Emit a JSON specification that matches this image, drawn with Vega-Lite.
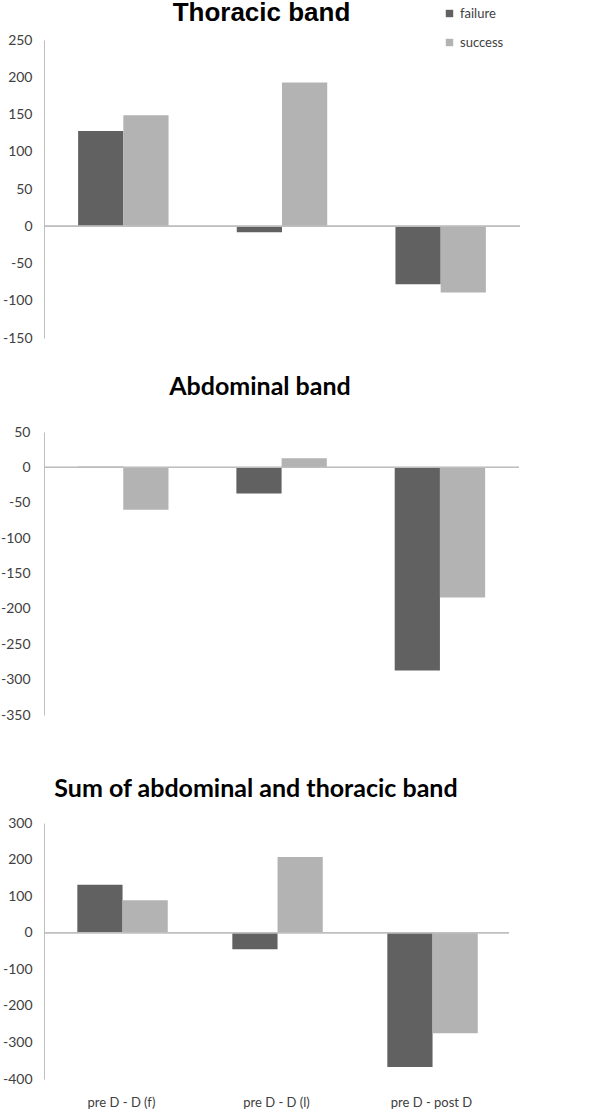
{
  "$schema": "https://vega.github.io/schema/vega-lite/v6.json",
  "padding": 0,
  "background": "white",
  "spacing": 30,
  "data": {"values": [
    {"panel": "thoracic", "period": "pre D - D (f)", "group": "failure", "value": 128},
    {"panel": "thoracic", "period": "pre D - D (f)", "group": "success", "value": 149},
    {"panel": "thoracic", "period": "pre D - D (l)", "group": "failure", "value": -8},
    {"panel": "thoracic", "period": "pre D - D (l)", "group": "success", "value": 193},
    {"panel": "thoracic", "period": "pre D - post D", "group": "failure", "value": -78},
    {"panel": "thoracic", "period": "pre D - post D", "group": "success", "value": -89},
    {"panel": "abdominal", "period": "pre D - D (f)", "group": "failure", "value": 1},
    {"panel": "abdominal", "period": "pre D - D (f)", "group": "success", "value": -60},
    {"panel": "abdominal", "period": "pre D - D (l)", "group": "failure", "value": -37},
    {"panel": "abdominal", "period": "pre D - D (l)", "group": "success", "value": 13},
    {"panel": "abdominal", "period": "pre D - post D", "group": "failure", "value": -287},
    {"panel": "abdominal", "period": "pre D - post D", "group": "success", "value": -184},
    {"panel": "sum", "period": "pre D - D (f)", "group": "failure", "value": 131},
    {"panel": "sum", "period": "pre D - D (f)", "group": "success", "value": 89},
    {"panel": "sum", "period": "pre D - D (l)", "group": "failure", "value": -45},
    {"panel": "sum", "period": "pre D - D (l)", "group": "success", "value": 207},
    {"panel": "sum", "period": "pre D - post D", "group": "failure", "value": -367},
    {"panel": "sum", "period": "pre D - post D", "group": "success", "value": -275}
  ]},
  "vconcat": [
    {
      "title": {"text": "Thoracic band", "font": "Liberation Sans", "fontSize": 26, "fontWeight": "bold", "anchor": "middle", "frame": "bounds", "offset": 7, "color": "black"},
      "width": 476, "height": 298,
      "transform": [{"filter": "datum.panel === 'thoracic'"}],
      "layer": [
        {"mark": {"type": "bar"},
         "encoding": {
           "x": {"field": "period", "type": "nominal", "sort": ["pre D - D (f)", "pre D - D (l)", "pre D - post D"], "scale": {"paddingInner": 0.43, "paddingOuter": 0.215}, "axis": null},
           "xOffset": {"field": "group", "type": "nominal", "sort": ["failure", "success"], "scale": {"paddingInner": 0, "paddingOuter": 0}},
           "y": {"field": "value", "type": "quantitative", "scale": {"domain": [-150, 250], "nice": false, "zero": false}, "axis": {"values": [-150, -100, -50, 0, 50, 100, 150, 200, 250], "title": null, "labelOverlap": false, "labelExpr": "'' + datum.value"}},
           "color": {"field": "group", "type": "nominal", "scale": {"domain": ["failure", "success"], "range": ["#616161", "#b3b3b3"]}, "legend": {"title": null, "orient": "none", "legendX": 399, "legendY": -33}}
         }},
        {"mark": {"type": "rule", "color": "#bfbfbf", "strokeWidth": 1}, "encoding": {"y": {"datum": 0, "type": "quantitative", "axis": {"values": [-150, -100, -50, 0, 50, 100, 150, 200, 250], "title": null, "labelOverlap": false, "labelExpr": "'' + datum.value"}}}}
      ]
    },
    {
      "title": {"text": "Abdominal band", "font": "Lato", "fontSize": 25, "fontWeight": "bold", "anchor": "middle", "frame": "bounds", "offset": 25, "color": "black"},
      "width": 475, "height": 283,
      "transform": [{"filter": "datum.panel === 'abdominal'"}],
      "layer": [
        {"mark": {"type": "bar"},
         "encoding": {
           "x": {"field": "period", "type": "nominal", "sort": ["pre D - D (f)", "pre D - D (l)", "pre D - post D"], "scale": {"paddingInner": 0.43, "paddingOuter": 0.215}, "axis": {"title": null, "domain": false, "ticks": false, "labelAngle": 0, "labelPadding": 18, "labelColor": "white", "labelFontSize": 14}},
           "xOffset": {"field": "group", "type": "nominal", "sort": ["failure", "success"], "scale": {"paddingInner": 0, "paddingOuter": 0}},
           "y": {"field": "value", "type": "quantitative", "scale": {"domain": [-350, 50], "nice": false, "zero": false}, "axis": {"values": [-350, -300, -250, -200, -150, -100, -50, 0, 50], "title": null, "labelPadding": 14, "labelOverlap": false, "labelExpr": "'' + datum.value"}},
           "color": {"field": "group", "type": "nominal"}
         }},
        {"mark": {"type": "rule", "color": "#bfbfbf", "strokeWidth": 1}, "encoding": {"y": {"datum": 0, "type": "quantitative", "axis": {"values": [-350, -300, -250, -200, -150, -100, -50, 0, 50], "title": null, "labelPadding": 14, "labelOverlap": false, "labelExpr": "'' + datum.value"}}}}
      ]
    },
    {
      "title": {"text": "Sum of abdominal and thoracic band", "font": "Lato", "fontSize": 25, "fontWeight": "bold", "anchor": "middle", "frame": "bounds", "offset": 14, "color": "black"},
      "width": 465, "height": 256,
      "transform": [{"filter": "datum.panel === 'sum'"}],
      "layer": [
        {"mark": {"type": "bar"},
         "encoding": {
           "x": {"field": "period", "type": "nominal", "sort": ["pre D - D (f)", "pre D - D (l)", "pre D - post D"], "scale": {"paddingInner": 0.43, "paddingOuter": 0.215}, "axis": {"title": null, "domain": false, "ticks": false, "labelAngle": 0, "labelPadding": 17, "labelFontSize": 13}},
           "xOffset": {"field": "group", "type": "nominal", "sort": ["failure", "success"], "scale": {"paddingInner": 0, "paddingOuter": 0}},
           "y": {"field": "value", "type": "quantitative", "scale": {"domain": [-400, 300], "nice": false, "zero": false}, "axis": {"values": [-400, -300, -200, -100, 0, 100, 200, 300], "title": null, "labelOverlap": false, "labelExpr": "'' + datum.value"}},
           "color": {"field": "group", "type": "nominal"}
         }},
        {"mark": {"type": "rule", "color": "#bfbfbf", "strokeWidth": 1}, "encoding": {"y": {"datum": 0, "type": "quantitative", "axis": {"values": [-400, -300, -200, -100, 0, 100, 200, 300], "title": null, "labelOverlap": false, "labelExpr": "'' + datum.value"}}}}
      ]
    }
  ],
  "config": {
    "font": "Lato",
    "view": {"stroke": null},
    "axis": {"grid": false, "ticks": false, "domainColor": "#bfbfbf", "labelColor": "#404040", "labelFont": "Lato", "labelFontSize": 14, "labelPadding": 12},
    "legend": {"symbolType": "square", "symbolSize": 55, "labelFont": "Lato", "labelFontSize": 13, "labelColor": "#404040", "rowPadding": 15, "labelOffset": 4}
  }
}
